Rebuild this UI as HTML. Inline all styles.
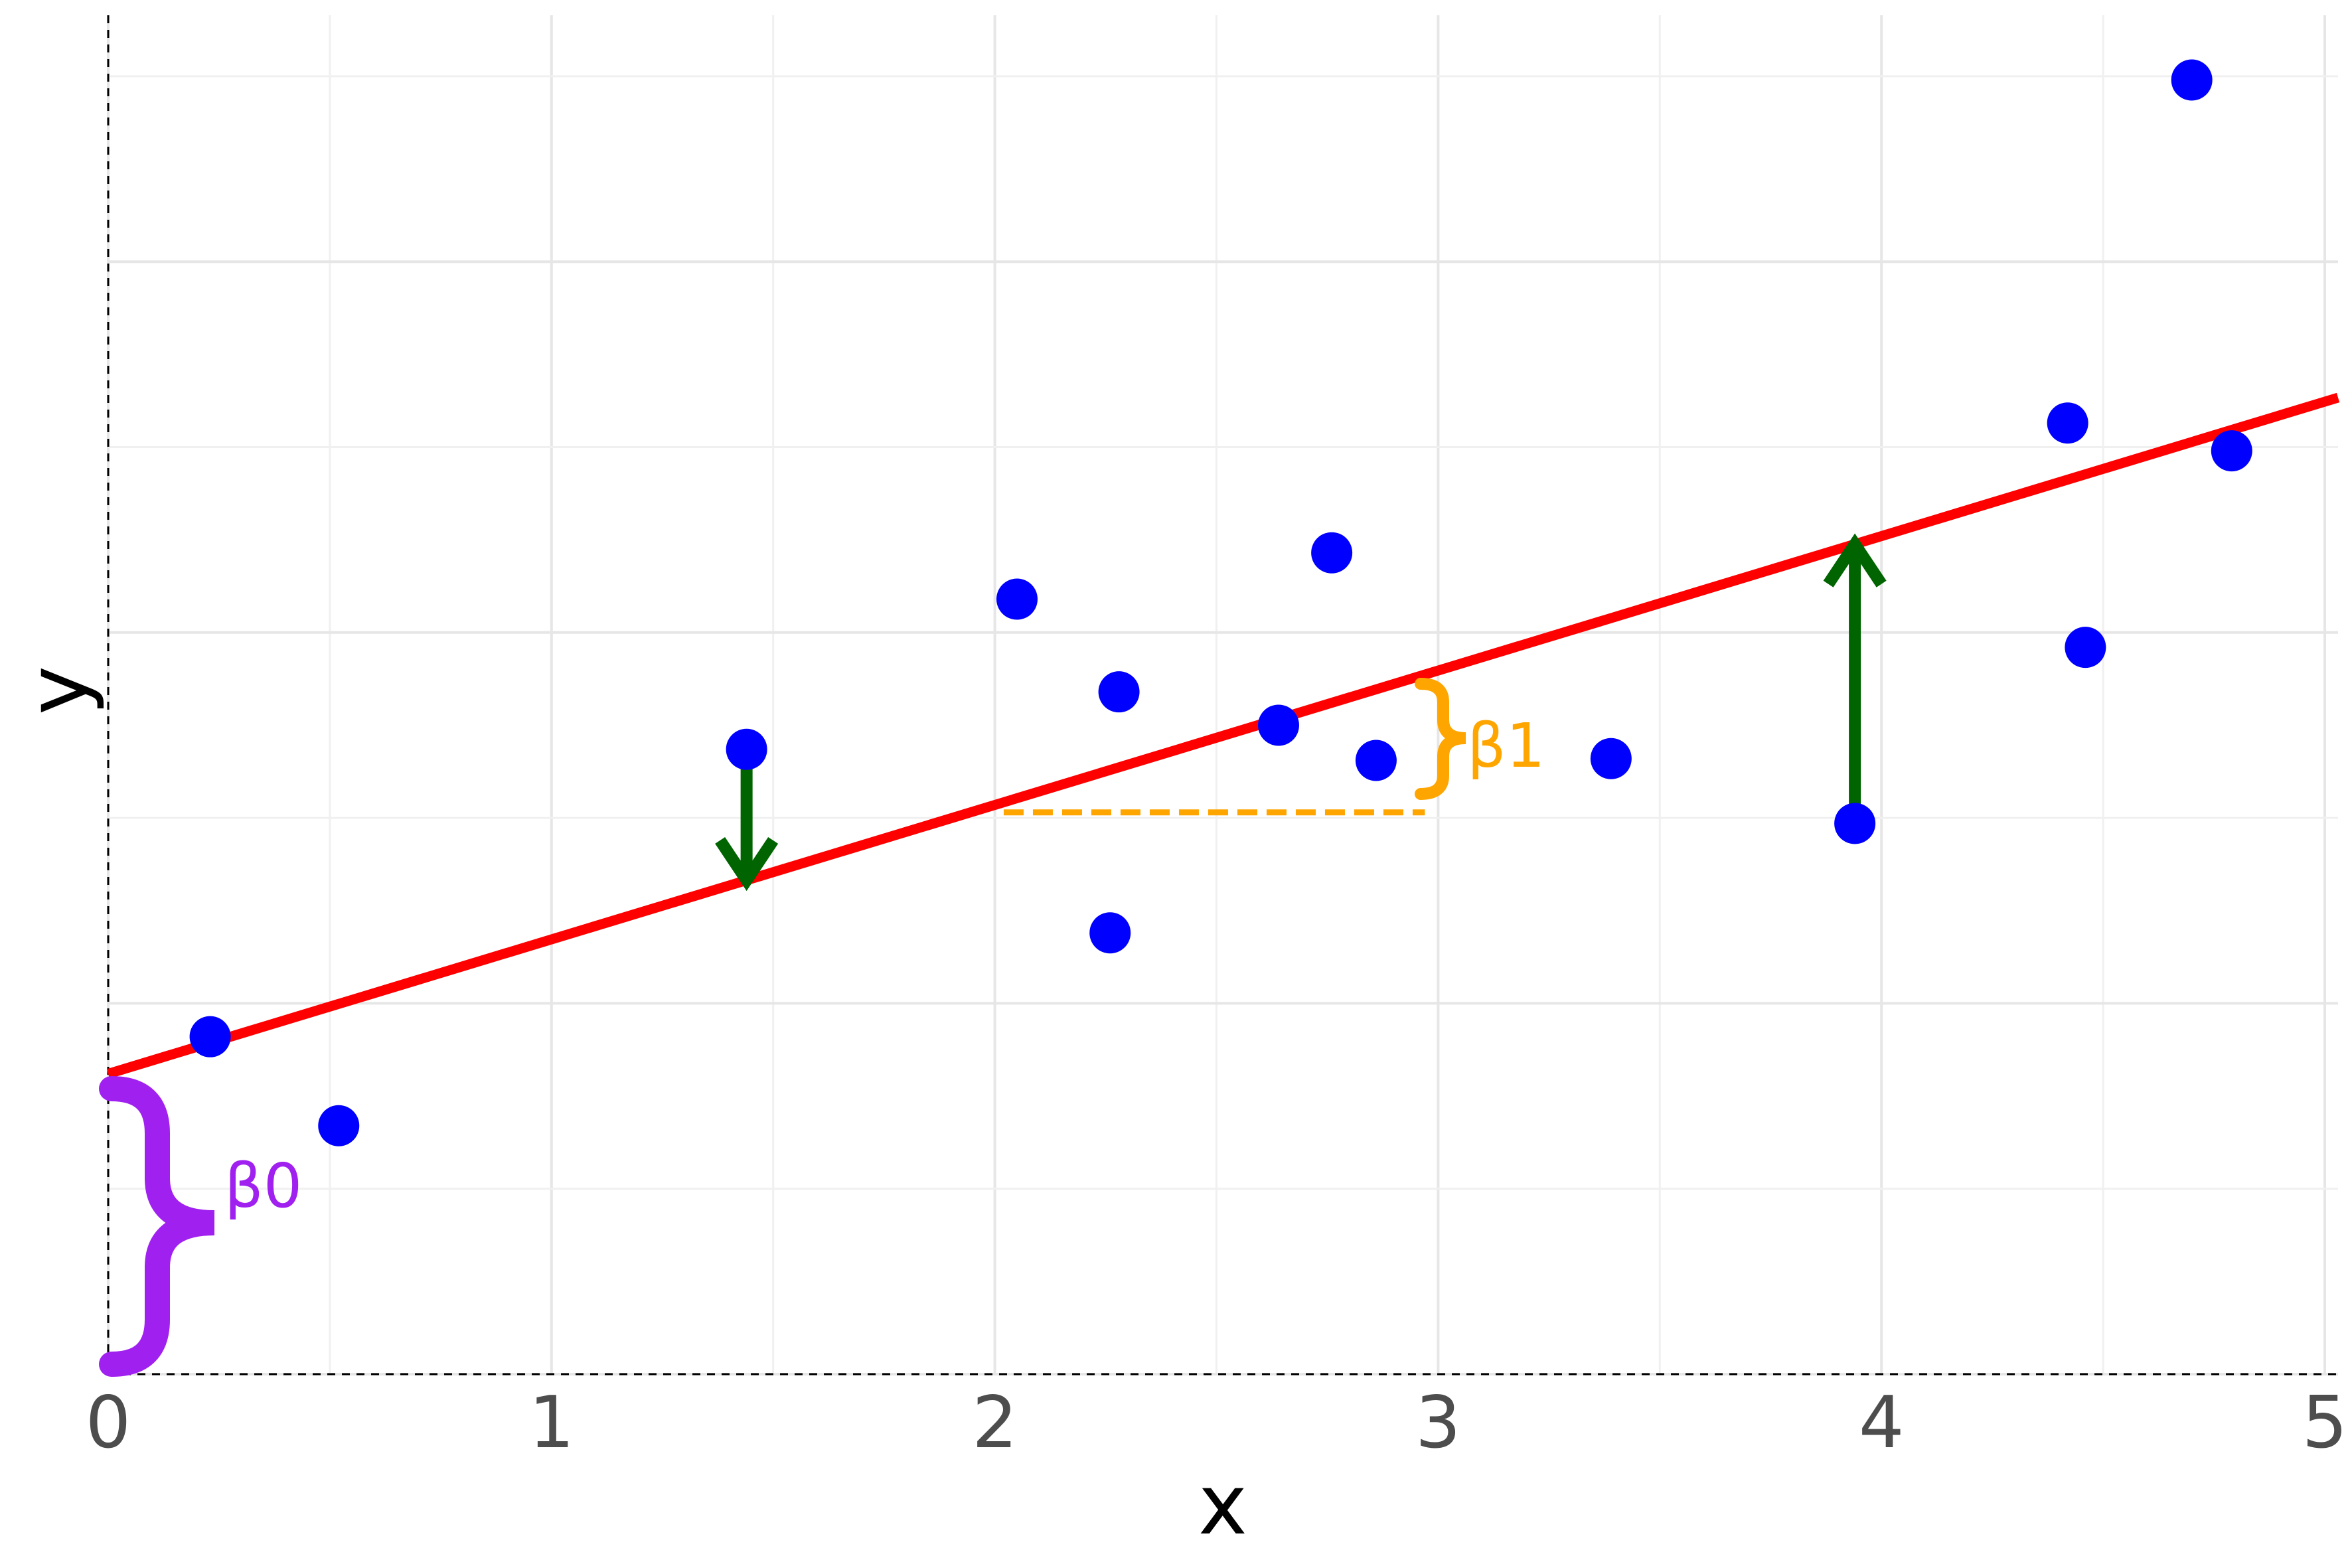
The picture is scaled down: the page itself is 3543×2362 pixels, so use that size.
<!DOCTYPE html>
<html><head><meta charset="utf-8"><style>
html,body{margin:0;padding:0;background:#fff;}
svg{display:block;font-family:"DejaVu Sans","Liberation Sans",sans-serif;}
</style></head><body>
<svg id="chart" width="3543" height="2362" viewBox="0 0 3543 2362" xmlns="http://www.w3.org/2000/svg">
<g id="grid"></g>
<g id="axes"></g>
<g id="marks"></g>
<text x="1842" y="2310" font-size="125" text-anchor="middle" fill="#000">x</text>
<text x="0" y="0" font-size="125" text-anchor="middle" fill="#000" transform="translate(130,1040) rotate(-90)">y</text>
</svg>
<script>
const xTicks = [0,1,2,3,4,5];
const xMinorGrid = [0.5,1.5,2.5,3.5,4.5];
const yGrid = [0,1,2,3,4,5,6,7];
const pointsX = [0.23,0.52,1.44,2.05,2.28,2.26,2.64,2.76,2.86,3.39,3.94,4.42,4.46,4.70,4.79];
const pointsY = [1.82,1.34,3.37,4.18,3.68,2.38,3.50,4.43,3.31,3.32,2.97,5.13,3.92,6.98,4.98];
const intercept = [1.62];
const slope = [0.725];
const residualIdx = [2,10];
const slopeRun = [2.02, 2.97];
const slopeRunY = [3.03];

const X0=163, X5=3502, Y0=2070, YU=279.3;
const sx = v => X0 + (X5-X0)*v/5;
const sy = v => Y0 - v*YU;
const lineY = x => intercept[0] + slope[0]*x;
const NS="http://www.w3.org/2000/svg";
function mk(tag, attrs, parent){const e=document.createElementNS(NS,tag);for(const k in attrs)e.setAttribute(k,attrs[k]);parent.appendChild(e);return e;}
const grid=document.getElementById('grid'), axes=document.getElementById('axes'), marks=document.getElementById('marks');

xMinorGrid.forEach(v=>{const l=mk('line',{x1:sx(v),x2:sx(v),y1:23,y2:Y0,stroke:'#f0f0f0','stroke-width':3},grid);

});
xTicks.forEach(v=>{const l=mk('line',{x1:sx(v),x2:sx(v),y1:23,y2:Y0,stroke:'#e6e6e6','stroke-width':4},grid);


const t=mk('text',{x:sx(v),y:2180,'font-size':108,'text-anchor':'middle',fill:'#4d4d4d'},axes);t.textContent=v;

});
yGrid.forEach(v=>{const l=mk('line',{x1:X0,x2:X5+20,y1:sy(v),y2:sy(v),stroke:v%2?'#f0f0f0':'#e6e6e6','stroke-width':v%2?3:4},grid);

});
const ax1=mk('line',{x1:X0,x2:X0,y1:23,y2:Y0,stroke:'#000','stroke-width':3,'stroke-dasharray':'12,10'},axes);


const ax2=mk('line',{x1:X0,x2:X5+20,y1:Y0,y2:Y0,stroke:'#000','stroke-width':3,'stroke-dasharray':'12,10'},axes);



const dl=mk('line',{x1:sx(slopeRun[0]),x2:sx(slopeRun[1]),y1:sy(slopeRunY[0]),y2:sy(slopeRunY[0]),stroke:'#ffa500','stroke-width':9,'stroke-dasharray':'30,14'},marks);



const rl=mk('line',{x1:sx(0),y1:sy(lineY(0)),x2:sx(5.03),y2:sy(lineY(5.03)),stroke:'#ff0000','stroke-width':15},marks);



residualIdx.forEach(i=>{
  const x=sx(pointsX[i]), ya=sy(pointsY[i]), yb=sy(lineY(pointsX[i]));
  const dir = yb>ya?1:-1;
  const l=mk('line',{x1:x,x2:x,y1:ya,y2:yb-dir*8,stroke:'#006400','stroke-width':18},marks);
  
  
  const h=mk('polyline',{points:`${x-40},${yb-dir*60} ${x},${yb} ${x+40},${yb-dir*60}`,fill:'none',stroke:'#006400','stroke-width':18},marks);
  
  
});

pointsX.forEach((v,i)=>{const c=mk('circle',{cx:sx(v),cy:sy(pointsY[i]),r:31,fill:'#0000ff'},marks);

});

function brace(xl,xm,xt,top,mid,bot,color,w){
  const r=Math.min((xm-xl), (mid-top)/3);
  const d=`M${xl},${top} Q${xm},${top} ${xm},${top+r} L${xm},${mid-r} Q${xm},${mid} ${xt},${mid} Q${xm},${mid} ${xm},${mid+r} L${xm},${bot-r} Q${xm},${bot} ${xl},${bot}`;
  return mk('path',{d:d,fill:'none',stroke:color,'stroke-width':w,'stroke-linecap':'round'},marks);
}
const b0=brace(168,237,323,1640,1842,2055,'#a020f0',38);


const t0=mk('text',{x:338,y:1818,'font-size':92,fill:'#a020f0'},marks);t0.textContent='β0';


const b1=brace(2140,2174,2208,1030,1112,1196,'#ffa500',18);


const t1=mk('text',{x:2210,y:1155,'font-size':92,fill:'#ffa500'},marks);t1.textContent='β1';


</script>
</body></html>
